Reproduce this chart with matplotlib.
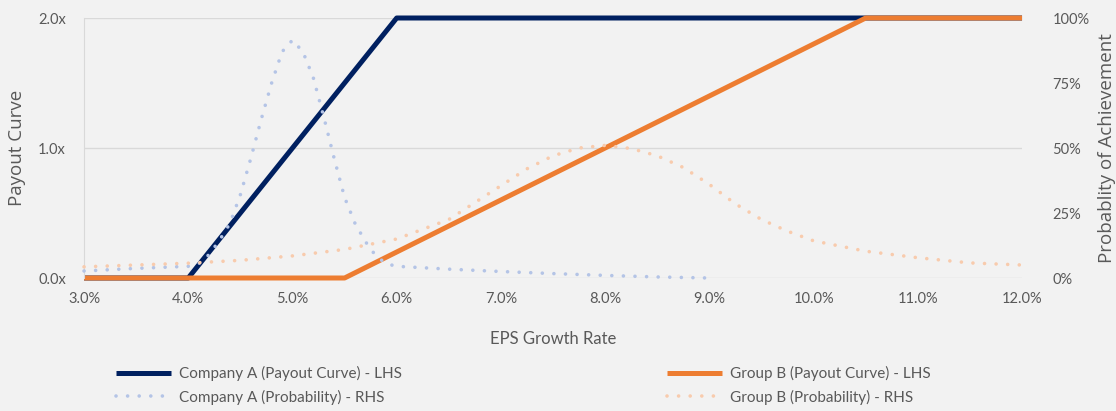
import matplotlib.pyplot as plt
from matplotlib.ticker import FuncFormatter

# EPS growth rate (%) break points for the payout curves
payout_a_x = [3.0, 4.0, 6.0, 12.0]
payout_a_y = [0.0, 0.0, 2.0, 2.0]
payout_b_x = [3.0, 5.5, 10.5, 12.0]
payout_b_y = [0.0, 0.0, 2.0, 2.0]

# Probability of achievement (%)
prob_a_x = [3.0, 3.5, 4.0, 4.1, 4.2, 4.3, 4.4, 4.5, 4.6, 4.7, 4.8, 4.9, 5.0,
            5.1, 5.2, 5.3, 5.4, 5.5, 5.6, 5.7, 5.8, 5.9, 6.0, 6.5, 7.0, 7.5,
            8.0, 8.5, 9.0]
prob_a_y = [2.7, 3.7, 4.5, 5.5, 9.0, 14.5, 21.0, 32.0, 46.0, 61.0, 75.0, 87.0,
            91.5, 87.0, 77.0, 62.0, 46.0, 31.0, 21.0, 14.0, 8.5, 5.5, 4.5, 3.4,
            2.5, 1.7, 1.0, 0.4, 0.0]
prob_b_x = [3.0, 3.5, 4.0, 4.5, 5.0, 5.5, 6.0, 6.5, 7.0, 7.25, 7.5, 7.75, 8.0,
            8.25, 8.5, 8.75, 9.0, 9.25, 9.5, 9.75, 10.0, 10.5, 11.0, 11.5, 12.0]
prob_b_y = [4.3, 5.0, 5.7, 6.8, 8.5, 11.0, 15.0, 22.5, 35.5, 42.0, 47.0, 50.0,
            51.0, 49.8, 47.0, 42.5, 36.0, 28.5, 22.5, 18.0, 14.3, 10.3, 7.8,
            5.8, 5.0]

x_ticks = [3, 4, 5, 6, 7, 8, 9, 10, 11, 12]

navy = '#002060'
orange = '#ED7D31'
light_blue = '#B4C4E6'
light_orange = '#F8CBAD'
text_grey = '#595959'
grid_grey = '#D9D9D9'

plt.rcParams['font.family'] = ['Lato', 'DejaVu Sans']

fig = plt.figure(figsize=(11.16, 4.11), dpi=100, facecolor='#F2F2F2')
ax = fig.add_axes([0.0753, 0.3236, 0.8405, 0.6326])
ax.set_facecolor('#F2F2F2')

l1, = ax.plot(payout_a_x, payout_a_y, color=navy, lw=3.6, clip_on=False,
              solid_capstyle='butt', label='Company A (Payout Curve) - LHS')
l3, = ax.plot(payout_b_x, payout_b_y, color=orange, lw=3.6, clip_on=False,
              solid_capstyle='butt', label='Group B (Payout Curve) - LHS')
ax.set_xlim(3, 12)
ax.set_ylim(0, 2)
ax.set_yticks([0, 1, 2])
ax.yaxis.set_major_formatter(FuncFormatter(lambda v, p: f'{v:.1f}x'))
ax.set_xticks(x_ticks)
ax.xaxis.set_major_formatter(FuncFormatter(lambda v, p: f'{v:.1f}%'))
ax.grid(axis='y', color=grid_grey, lw=1)
ax.set_axisbelow(True)
for s in ['top', 'right', 'bottom']:
    ax.spines[s].set_visible(False)
ax.spines['left'].set_color(grid_grey)
ax.tick_params(length=0, labelsize=10.5, colors=text_grey)
ax.tick_params(axis='y', pad=13)
ax.tick_params(axis='x', pad=10)
ax.set_xlabel('EPS Growth Rate', fontsize=12, color=text_grey, labelpad=18)
ax.set_ylabel('Payout Curve', fontsize=13.5, color=text_grey, labelpad=9,
              family='Open Sans')

ax2 = ax.twinx()
dot = (0, (0.01, 3.2))
l2, = ax2.plot(prob_a_x, prob_a_y, color=light_blue, lw=2.6, ls=dot,
               dash_capstyle='round', clip_on=False,
               label='Company A (Probability) - RHS')
l4, = ax2.plot(prob_b_x, prob_b_y, color=light_orange, lw=2.6, ls=dot,
               dash_capstyle='round', clip_on=False,
               label='Group B (Probability) - RHS')
ax2.set_ylim(0, 100)
ax2.set_yticks([0, 25, 50, 75, 100])
ax2.yaxis.set_major_formatter(FuncFormatter(lambda v, p: f'{v:.0f}%'))
for s in ax2.spines.values():
    s.set_visible(False)
ax2.tick_params(length=0, labelsize=10.5, colors=text_grey, pad=22)
ax2.set_ylabel('Probablity of Achievement', fontsize=13.5, color=text_grey,
               labelpad=6, family='Open Sans')

fig.legend(handles=[l1, l2, l3, l4], ncol=2, loc='center',
           bbox_to_anchor=(0.469, 0.062), frameon=False, fontsize=11,
           labelcolor=text_grey, handlelength=3.6, handletextpad=0.5,
           columnspacing=17.4, labelspacing=0.55)

fig.savefig('out.png', dpi=100, facecolor=fig.get_facecolor())
